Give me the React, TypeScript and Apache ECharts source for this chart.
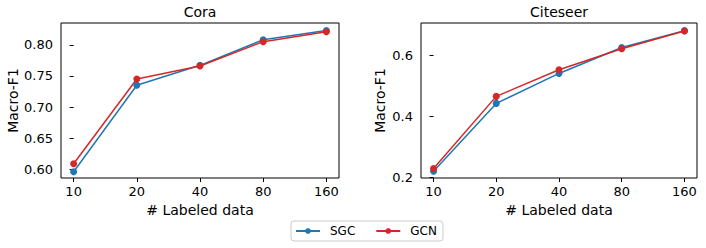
import React, { useEffect, useRef } from "react";
import * as echarts from "echarts";

const categories = ["10", "20", "40", "80", "160"];
const coraSGC = [0.596, 0.735, 0.767, 0.808, 0.823];
const coraGCN = [0.609, 0.745, 0.766, 0.805, 0.821];
const citeSGC = [0.221, 0.443, 0.541, 0.626, 0.681];
const citeGCN = [0.23, 0.466, 0.553, 0.622, 0.68];
const coraTicks = [0.6, 0.65, 0.7, 0.75, 0.8];
const citeTicks = [0.2, 0.4, 0.6];

const BLUE = "#1f77b4";
const RED = "#d62728";
const FONT = "DejaVu Sans";

export default function App() {
  const ref = useRef<HTMLDivElement>(null);
  useEffect(() => {
    const chart = echarts.init(ref.current!, null, { renderer: "svg" });
    const idx = categories.map((_, i) => i);
    const xAxisBase = (gridIndex: number) => ({
      type: "value",
      gridIndex,
      min: -0.2,
      max: 4.2,
      name: "# Labeled data",
      nameLocation: "middle",
      nameGap: 22,
      nameTextStyle: { fontFamily: FONT, fontSize: 14, color: "#000" },
      axisLine: { show: false },
      splitLine: { show: false },
      axisTick: { show: true, inside: false, length: 4, customValues: idx, lineStyle: { color: "#000" } },
      axisLabel: {
        customValues: idx,
        margin: 7,
        hideOverlap: false,
        fontFamily: FONT,
        fontSize: 13,
        color: "#000",
        formatter: (v: number) => categories[Math.round(v)] ?? "",
      },
    });
    const yAxisBase = (gridIndex: number, min: number, max: number, ticks: number[], dec: number, gap: number) => ({
      type: "value",
      gridIndex,
      min,
      max,
      name: "Macro-F1",
      nameLocation: "middle",
      nameGap: gap,
      nameRotate: 90,
      nameTextStyle: { fontFamily: FONT, fontSize: 14, color: "#000" },
      axisLine: { show: false },
      splitLine: { show: false },
      axisTick: { show: true, inside: false, length: 4, customValues: ticks, lineStyle: { color: "#000" } },
      axisLabel: {
        customValues: ticks,
        margin: 8,
        hideOverlap: false,
        showMaxLabel: true,
        showMinLabel: true,
        fontFamily: FONT,
        fontSize: 13,
        color: "#000",
        formatter: (v: any) => Number(v).toFixed(dec),
      },
    });
    const lineSeries = (name: string, color: string, data: number[], g: number) => ({
      type: "line",
      name,
      xAxisIndex: g,
      yAxisIndex: g,
      data: data.map((v, i) => [i, v]),
      symbol: "circle",
      symbolSize: 7,
      showSymbol: true,
      lineStyle: { color, width: 1.5 },
      itemStyle: { color },
      emphasis: { disabled: true },
    });
    const titleStyle = { fontFamily: FONT, fontSize: 14, fontWeight: "normal", color: "#000" };
    chart.setOption({
      animation: false,
      title: [
        { text: "Cora", left: 200, top: 5, padding: 0, textAlign: "center", textStyle: titleStyle },
        { text: "Citeseer", left: 559, top: 5, padding: 0, textAlign: "center", textStyle: titleStyle },
      ],
      grid: [
        { left: 61, top: 23, width: 278, height: 155, show: true, borderColor: "#000", borderWidth: 1, backgroundColor: "transparent" },
        { left: 421, top: 23, width: 276, height: 155, show: true, borderColor: "#000", borderWidth: 1, backgroundColor: "transparent" },
      ],
      xAxis: [xAxisBase(0), xAxisBase(1)],
      yAxis: [
        yAxisBase(0, 0.586, 0.835, coraTicks, 2, 41),
        yAxisBase(1, 0.199, 0.706, citeTicks, 1, 34),
      ],
      legend: {
        data: ["SGC", "GCN"],
        left: 291,
        top: 221,
        orient: "horizontal",
        itemWidth: 24,
        itemHeight: 7,
        itemGap: 20,
        padding: [4, 6, 4, 4],
        borderColor: "#ccc",
        borderWidth: 1,
        borderRadius: 3,
        textStyle: { fontFamily: FONT, fontSize: 12, color: "#000", padding: [0, 0, 0, 5] },
      },
      series: [
        lineSeries("SGC", BLUE, coraSGC, 0),
        lineSeries("GCN", RED, coraGCN, 0),
        lineSeries("SGC", BLUE, citeSGC, 1),
        lineSeries("GCN", RED, citeGCN, 1),
      ],
    });
    return () => chart.dispose();
  }, []);
  return <div ref={ref} style={{ position: "absolute", left: 0, top: 0, width: 706, height: 248 }} />;
}
